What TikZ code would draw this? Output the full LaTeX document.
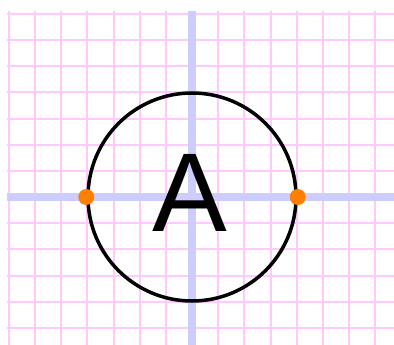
\documentclass[tikz,border=0pt]{standalone}
\usepackage{fontspec}
\setmainfont{Liberation Sans}
\usetikzlibrary{positioning}

\definecolor{gridpink}{RGB}{255,200,255}
\definecolor{axisblue}{RGB}{204,204,255}
\definecolor{dotorange}{RGB}{255,127,0}

\tikzset{
  gridline/.style={gridpink, line width=2},
  axisline/.style={axisblue, line width=8},
  ring/.style={circle, draw=black, line width=3.5, minimum size=208, inner sep=0},
  pin/.style={circle, fill=dotorange, minimum size=16, inner sep=0}
}

\begin{document}
\begin{tikzpicture}[x=1pt, y=-1pt]
  \useasboundingbox (0,0) rectangle (394,345);

  % Grid
  \foreach \k in {0,...,14}
    \draw[gridline] ({9+26.15*\k},11) -- ({9+26.15*\k},345);
  \foreach \k in {0,...,12}
    \draw[gridline] (7,{14+26.15*\k}) -- (394,{14+26.15*\k});

  % Axes
  \draw[axisline] (7,197) -- (394,197);
  \draw[axisline] (192,11) -- (192,345);

  % Circle with letter
  \node[ring] (outline) at (192,197) {};
  \node[inner sep=0] (letter) at (190,193) {\fontsize{112}{112}\selectfont A};

  % End points
  \node[pin] (leftpin) at (outline.west) {};
  \node[pin] (rightpin) at (outline.east) {};
\end{tikzpicture}
\end{document}
